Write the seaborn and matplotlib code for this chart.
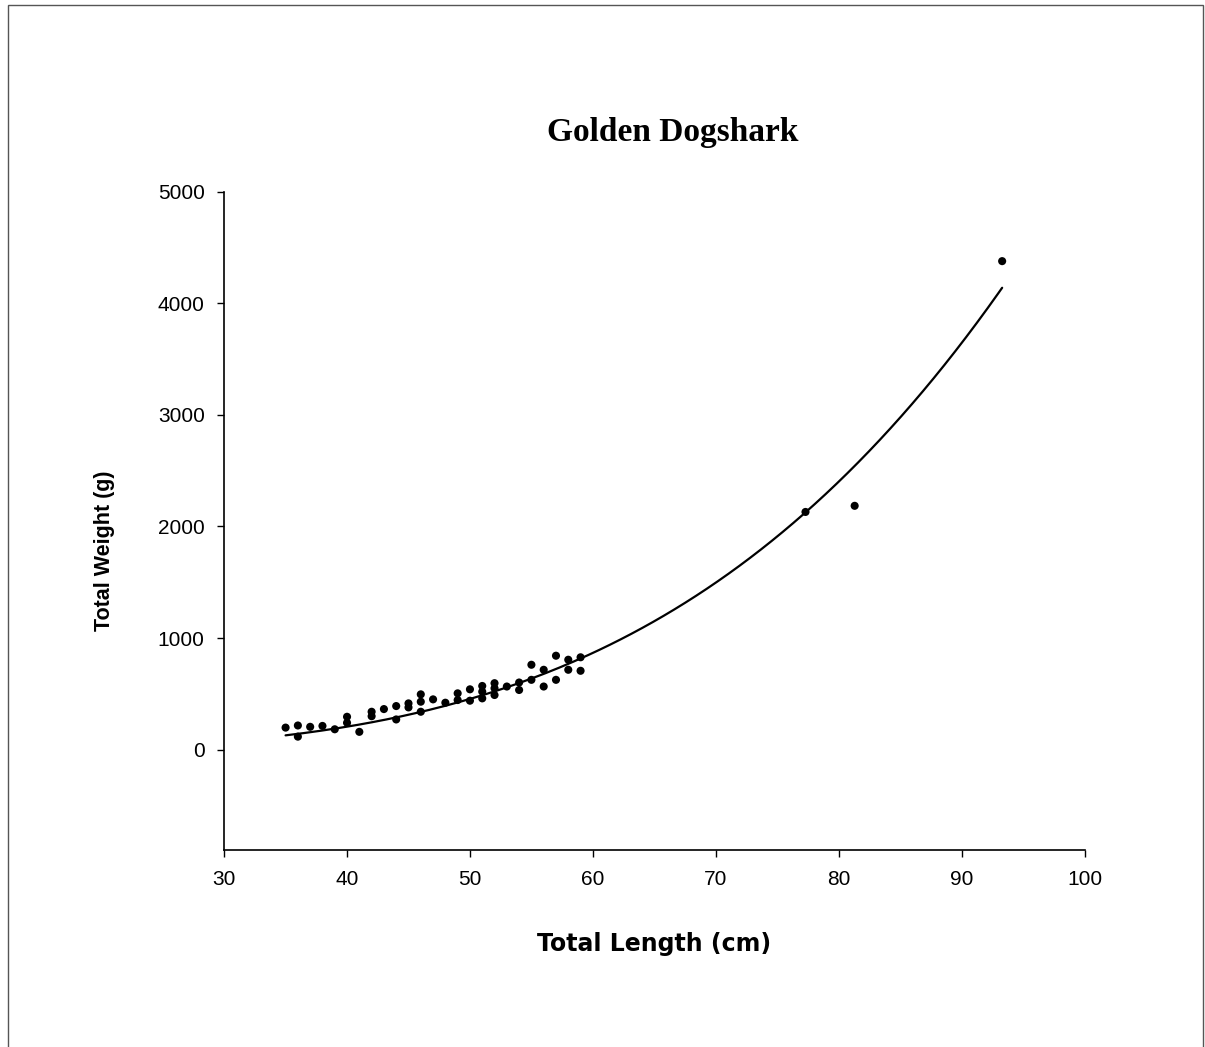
"""Length-weight scatter for Golden Dogshark with a power-law trend line."""

import numpy as np
import pandas as pd
import matplotlib
matplotlib.use("Agg")
import matplotlib.pyplot as plt
import seaborn as sns
from matplotlib.patches import Rectangle

# Data
length_cm = [
    35, 36, 36, 37, 38, 39, 40, 40, 41, 42, 42, 43, 44, 44, 45, 45,
    46, 46, 46, 47, 48, 49, 49, 50, 50, 51, 51, 51, 52, 52, 52, 53,
    54, 54, 55, 55, 56, 56, 57, 57, 58, 58, 59, 59, 77.3, 81.3, 93.3,
]
weight_g = [
    198, 217, 117, 205, 213, 183, 295, 241, 160, 340, 300, 364, 391, 271, 415, 379,
    496, 430, 340, 451, 421, 505, 445, 541, 439, 571, 520, 460, 596, 550, 490, 566,
    602, 535, 761, 626, 716, 566, 842, 626, 806, 716, 828, 707, 2130, 2185, 4377,
]

# Power trend line W = a * L^b as drawn in the chart
trend_a = 4.4e-4
trend_b = 3.54

x_ticks = [30, 40, 50, 60, 70, 80, 90, 100]
y_ticks = [0, 1000, 2000, 3000, 4000, 5000]

df = pd.DataFrame({"length": length_cm, "weight": weight_g})

fit_x = np.linspace(df["length"].min(), df["length"].max(), 200)
fit = pd.DataFrame({"length": fit_x, "weight": trend_a * fit_x ** trend_b})

sns.set_style("white")
plt.rcParams["font.family"] = ["Liberation Sans", "DejaVu Sans"]
plt.rcParams["text.color"] = "black"
plt.rcParams["axes.labelcolor"] = "black"
plt.rcParams["xtick.color"] = "black"
plt.rcParams["ytick.color"] = "black"

fig = plt.figure(figsize=(12.05, 10.47), dpi=100)
ax = fig.add_axes([0.186, 0.188, 0.714, 0.629])

sns.lineplot(data=fit, x="length", y="weight", color="black", lw=1.6, ax=ax)
sns.scatterplot(data=df, x="length", y="weight", color="black", s=34,
                edgecolor="none", ax=ax, zorder=3)

ax.set_xlim(30, 100)
ax.set_ylim(-900, 5000)
ax.set_xticks(x_ticks)
ax.set_yticks(y_ticks)
ax.tick_params(axis="both", direction="out", length=5, width=1, color="black",
               labelsize=15, pad=9, left=True, bottom=True)
for side in ["top", "right"]:
    ax.spines[side].set_visible(False)
for side in ["left", "bottom"]:
    ax.spines[side].set_color("black")
    ax.spines[side].set_linewidth(1.2)

ax.set_xlabel("Total Length (cm)", fontsize=17, fontweight="bold",
              family=["DejaVu Sans"])
ax.set_ylabel("Total Weight (g)", fontsize=15.5, fontweight="bold")
ax.xaxis.set_label_coords(0.5, -0.124)
ax.yaxis.set_label_coords(-0.127, 0.455)

fig.text(0.558, 0.873, "Golden Dogshark", ha="center", va="center",
         fontsize=24, fontweight="bold", family=["Liberation Serif", "DejaVu Serif"])

# thin page border
fig.patches.append(Rectangle((0.007, -0.01), 0.991, 1.005, transform=fig.transFigure,
                             fill=False, edgecolor="#555555", lw=1))

fig.savefig("out.png", dpi=100)
